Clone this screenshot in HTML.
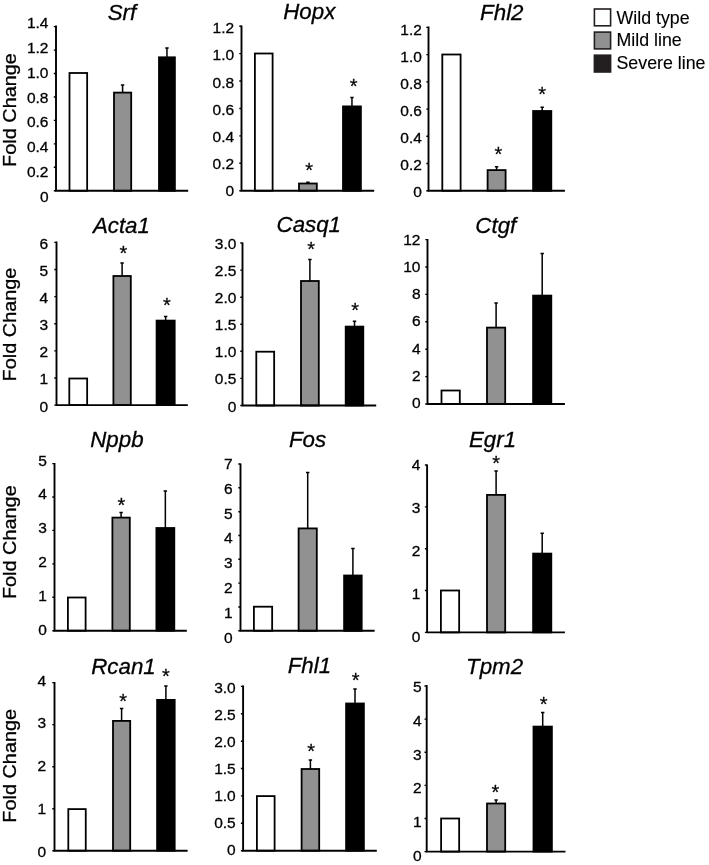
<!DOCTYPE html>
<html lang="en">
<head>
<meta charset="utf-8">
<title>Fold change bar charts</title>
<style>
html,body{margin:0;padding:0;background:#fff;}
body{width:709px;height:865px;overflow:hidden;}
svg{display:block;will-change:transform;}
svg text{font-family:"Liberation Sans", Arial, Helvetica, sans-serif;fill:#000;stroke:#000;stroke-width:.3px;}
.t{font-style:italic;font-size:22.3px;text-anchor:middle;}
.k{font-size:15.5px;text-anchor:end;}
.s{font-size:20px;text-anchor:middle;stroke:#111;stroke-width:.28px;}
.l{font-size:17.8px;stroke-width:.12px;}
.f{font-size:18.8px;text-anchor:middle;}
</style>
</head>
<body>
<svg width="709" height="865" viewBox="0 0 709 865">
<rect width="709" height="865" fill="#fff"/>
<g>
<text class="t" x="122.0" y="19.5">Srf</text>
<rect x="69.50" y="73.00" width="17.65" height="117.80" fill="#fff" stroke="#000" stroke-width="1.8"/>
<path d="M122.60 92.7V84.5M120.90 85.0H124.30" stroke="#000" stroke-width="1.5" fill="none"/>
<rect x="114.00" y="92.60" width="17.20" height="98.20" fill="#919191" stroke="#000" stroke-width="1.8"/>
<path d="M166.95 57.4V47.6M165.25 48.1H168.65" stroke="#000" stroke-width="1.5" fill="none"/>
<rect x="159.00" y="57.30" width="15.90" height="133.50" fill="#000" stroke="#000" stroke-width="1.8"/>
<path d="M56.00 25.6V190.80H188.2" stroke="#000" stroke-width="1.9" fill="none" stroke-linejoin="miter"/>
<text class="k" x="48.5" y="202.1">0</text>
<text class="k" x="48.5" y="177.2">0.2</text>
<text class="k" x="48.5" y="152.3">0.4</text>
<text class="k" x="48.5" y="127.4">0.6</text>
<text class="k" x="48.5" y="102.5">0.8</text>
<text class="k" x="48.5" y="77.6">1.0</text>
<text class="k" x="48.5" y="52.7">1.2</text>
<text class="k" x="48.5" y="27.9">1.4</text>
<path d="M56.00 190.8h-2.2M56.00 167.3h-2.2M56.00 143.9h-2.2M56.00 120.4h-2.2M56.00 97.0h-2.2M56.00 73.5h-2.2M56.00 50.1h-2.2M56.00 26.6h-2.2" stroke="#000" stroke-width="1.4" fill="none"/>
</g>
<g>
<text class="t" x="309.3" y="19.0">Hopx</text>
<rect x="254.90" y="53.50" width="17.70" height="137.25" fill="#fff" stroke="#000" stroke-width="1.8"/>
<path d="M307.90 183.6V181.8M306.20 182.3H309.60" stroke="#000" stroke-width="1.5" fill="none"/>
<rect x="299.00" y="183.50" width="17.80" height="7.25" fill="#919191" stroke="#000" stroke-width="1.8"/>
<path d="M351.95 106.5V97.1M350.25 97.6H353.65" stroke="#000" stroke-width="1.5" fill="none"/>
<rect x="343.00" y="106.40" width="17.90" height="84.35" fill="#000" stroke="#000" stroke-width="1.8"/>
<path d="M241.50 25.6V190.75H374.2" stroke="#000" stroke-width="1.9" fill="none" stroke-linejoin="miter"/>
<text class="k" x="234.1" y="195.7">0</text>
<text class="k" x="234.1" y="168.7">0.2</text>
<text class="k" x="234.1" y="141.6">0.4</text>
<text class="k" x="234.1" y="114.5">0.6</text>
<text class="k" x="234.1" y="87.5">0.8</text>
<text class="k" x="234.1" y="60.4">1.0</text>
<text class="k" x="234.1" y="33.4">1.2</text>
<path d="M241.50 190.8h-2.2M241.50 163.3h-2.2M241.50 135.9h-2.2M241.50 108.5h-2.2M241.50 81.0h-2.2M241.50 53.6h-2.2M241.50 26.2h-2.2" stroke="#000" stroke-width="1.4" fill="none"/>
<text class="s" x="309.1" y="176.9">*</text>
<text class="s" x="353.6" y="92.6">*</text>
</g>
<g>
<text class="t" x="501.8" y="19.5">Fhl2</text>
<rect x="442.30" y="54.50" width="18.30" height="136.25" fill="#fff" stroke="#000" stroke-width="1.8"/>
<path d="M496.60 170.2V166.2M494.90 166.7H498.30" stroke="#000" stroke-width="1.5" fill="none"/>
<rect x="487.60" y="170.10" width="18.00" height="20.65" fill="#919191" stroke="#000" stroke-width="1.8"/>
<path d="M542.20 111.1V106.7M540.50 107.2H543.90" stroke="#000" stroke-width="1.5" fill="none"/>
<rect x="533.10" y="111.00" width="18.20" height="79.75" fill="#000" stroke="#000" stroke-width="1.8"/>
<path d="M428.50 26.6V190.75H564.9" stroke="#000" stroke-width="1.9" fill="none" stroke-linejoin="miter"/>
<text class="k" x="421.9" y="196.9">0</text>
<text class="k" x="421.9" y="169.9">0.2</text>
<text class="k" x="421.9" y="142.9">0.4</text>
<text class="k" x="421.9" y="115.8">0.6</text>
<text class="k" x="421.9" y="88.8">0.8</text>
<text class="k" x="421.9" y="61.8">1.0</text>
<text class="k" x="421.9" y="34.8">1.2</text>
<path d="M428.50 190.8h-2.2M428.50 163.5h-2.2M428.50 136.3h-2.2M428.50 109.1h-2.2M428.50 81.9h-2.2M428.50 54.6h-2.2M428.50 27.4h-2.2" stroke="#000" stroke-width="1.4" fill="none"/>
<text class="s" x="498.3" y="160.5">*</text>
<text class="s" x="542.2" y="101.4">*</text>
</g>
<g>
<text class="t" x="121.4" y="232.6">Acta1</text>
<rect x="69.30" y="378.50" width="17.85" height="26.60" fill="#fff" stroke="#000" stroke-width="1.8"/>
<path d="M122.10 276.1V262.4M120.40 262.9H123.80" stroke="#000" stroke-width="1.5" fill="none"/>
<rect x="113.40" y="276.00" width="17.40" height="129.10" fill="#919191" stroke="#000" stroke-width="1.8"/>
<path d="M165.65 320.7V316.1M163.95 316.6H167.35" stroke="#000" stroke-width="1.5" fill="none"/>
<rect x="156.60" y="320.60" width="18.10" height="84.50" fill="#000" stroke="#000" stroke-width="1.8"/>
<path d="M56.50 241.6V405.10H187.8" stroke="#000" stroke-width="1.9" fill="none" stroke-linejoin="miter"/>
<text class="k" x="48.2" y="411.6">0</text>
<text class="k" x="48.2" y="384.4">1</text>
<text class="k" x="48.2" y="357.3">2</text>
<text class="k" x="48.2" y="330.1">3</text>
<text class="k" x="48.2" y="303.0">4</text>
<text class="k" x="48.2" y="275.9">5</text>
<text class="k" x="48.2" y="248.7">6</text>
<path d="M56.50 405.1h-2.2M56.50 378.0h-2.2M56.50 350.9h-2.2M56.50 323.8h-2.2M56.50 296.6h-2.2M56.50 269.5h-2.2M56.50 242.4h-2.2" stroke="#000" stroke-width="1.4" fill="none"/>
<text class="s" x="123.4" y="260.0">*</text>
<text class="s" x="166.8" y="311.8">*</text>
</g>
<g>
<text class="t" x="308.8" y="232.3">Casq1</text>
<rect x="256.30" y="351.70" width="17.85" height="53.80" fill="#fff" stroke="#000" stroke-width="1.8"/>
<path d="M309.90 281.1V259.0M308.20 259.5H311.60" stroke="#000" stroke-width="1.5" fill="none"/>
<rect x="301.00" y="281.00" width="17.80" height="124.50" fill="#919191" stroke="#000" stroke-width="1.8"/>
<path d="M354.50 326.7V320.7M352.80 321.2H356.20" stroke="#000" stroke-width="1.5" fill="none"/>
<rect x="345.70" y="326.60" width="17.60" height="78.90" fill="#000" stroke="#000" stroke-width="1.8"/>
<path d="M242.50 242.4V405.50H376.2" stroke="#000" stroke-width="1.9" fill="none" stroke-linejoin="miter"/>
<text class="k" x="236.4" y="411.5">0</text>
<text class="k" x="236.4" y="384.4">0.5</text>
<text class="k" x="236.4" y="357.3">1.0</text>
<text class="k" x="236.4" y="330.2">1.5</text>
<text class="k" x="236.4" y="303.0">2.0</text>
<text class="k" x="236.4" y="275.9">2.5</text>
<text class="k" x="236.4" y="248.8">3.0</text>
<path d="M242.50 405.5h-2.2M242.50 378.4h-2.2M242.50 351.3h-2.2M242.50 324.2h-2.2M242.50 297.2h-2.2M242.50 270.1h-2.2M242.50 243.0h-2.2" stroke="#000" stroke-width="1.4" fill="none"/>
<text class="s" x="311.1" y="255.6">*</text>
<text class="s" x="355.2" y="316.8">*</text>
</g>
<g>
<text class="t" x="495.8" y="232.6">Ctgf</text>
<rect x="441.50" y="390.50" width="18.30" height="13.50" fill="#fff" stroke="#000" stroke-width="1.8"/>
<path d="M496.10 327.7V302.5M494.40 303.0H497.80" stroke="#000" stroke-width="1.5" fill="none"/>
<rect x="487.00" y="327.60" width="18.20" height="76.40" fill="#919191" stroke="#000" stroke-width="1.8"/>
<path d="M542.20 295.7V253.0M540.50 253.5H543.90" stroke="#000" stroke-width="1.5" fill="none"/>
<rect x="533.10" y="295.60" width="18.20" height="108.40" fill="#000" stroke="#000" stroke-width="1.8"/>
<path d="M427.50 239.0V404.00H564.9" stroke="#000" stroke-width="1.9" fill="none" stroke-linejoin="miter"/>
<text class="k" x="420.5" y="407.7">0</text>
<text class="k" x="420.5" y="380.6">2</text>
<text class="k" x="420.5" y="353.5">4</text>
<text class="k" x="420.5" y="326.4">6</text>
<text class="k" x="420.5" y="299.3">8</text>
<text class="k" x="420.5" y="272.2">10</text>
<text class="k" x="420.5" y="245.1">12</text>
<path d="M427.50 404.0h-2.2M427.50 376.6h-2.2M427.50 349.2h-2.2M427.50 321.8h-2.2M427.50 294.4h-2.2M427.50 267.0h-2.2M427.50 239.6h-2.2" stroke="#000" stroke-width="1.4" fill="none"/>
</g>
<g>
<text class="t" x="116.9" y="447.3">Nppb</text>
<rect x="67.90" y="597.50" width="17.70" height="33.20" fill="#fff" stroke="#000" stroke-width="1.8"/>
<path d="M121.10 517.7V512.1M119.40 512.6H122.80" stroke="#000" stroke-width="1.5" fill="none"/>
<rect x="112.40" y="517.60" width="17.40" height="113.10" fill="#919191" stroke="#000" stroke-width="1.8"/>
<path d="M165.35 528.1V490.4M163.65 490.9H167.05" stroke="#000" stroke-width="1.5" fill="none"/>
<rect x="156.40" y="528.00" width="17.90" height="102.70" fill="#000" stroke="#000" stroke-width="1.8"/>
<path d="M54.50 463.0V630.70H186.8" stroke="#000" stroke-width="1.9" fill="none" stroke-linejoin="miter"/>
<text class="k" x="46.8" y="634.8">0</text>
<text class="k" x="46.8" y="600.9">1</text>
<text class="k" x="46.8" y="567.1">2</text>
<text class="k" x="46.8" y="533.2">3</text>
<text class="k" x="46.8" y="499.4">4</text>
<text class="k" x="46.8" y="465.6">5</text>
<path d="M54.50 630.7h-2.2M54.50 597.3h-2.2M54.50 563.9h-2.2M54.50 530.4h-2.2M54.50 497.0h-2.2M54.50 463.6h-2.2" stroke="#000" stroke-width="1.4" fill="none"/>
<text class="s" x="121.5" y="511.6">*</text>
</g>
<g>
<text class="t" x="307.6" y="446.9">Fos</text>
<rect x="253.90" y="606.70" width="18.25" height="24.10" fill="#fff" stroke="#000" stroke-width="1.8"/>
<path d="M307.70 528.5V472.0M306.00 472.5H309.40" stroke="#000" stroke-width="1.5" fill="none"/>
<rect x="298.60" y="528.40" width="18.20" height="102.40" fill="#919191" stroke="#000" stroke-width="1.8"/>
<path d="M352.90 575.6V548.1M351.20 548.6H354.60" stroke="#000" stroke-width="1.5" fill="none"/>
<rect x="344.10" y="575.50" width="17.60" height="55.30" fill="#000" stroke="#000" stroke-width="1.8"/>
<path d="M240.50 463.6V630.80H374.6" stroke="#000" stroke-width="1.9" fill="none" stroke-linejoin="miter"/>
<text class="k" x="232.7" y="642.8">0</text>
<text class="k" x="232.7" y="617.9">1</text>
<text class="k" x="232.7" y="593.1">2</text>
<text class="k" x="232.7" y="568.2">3</text>
<text class="k" x="232.7" y="543.3">4</text>
<text class="k" x="232.7" y="518.5">5</text>
<text class="k" x="232.7" y="493.6">6</text>
<text class="k" x="232.7" y="468.7">7</text>
<path d="M240.50 630.8h-2.2M240.50 607.0h-2.2M240.50 583.1h-2.2M240.50 559.3h-2.2M240.50 535.5h-2.2M240.50 511.7h-2.2M240.50 487.8h-2.2M240.50 464.0h-2.2" stroke="#000" stroke-width="1.4" fill="none"/>
</g>
<g>
<text class="t" x="492.5" y="447.3">Egr1</text>
<rect x="440.90" y="590.50" width="18.25" height="41.90" fill="#fff" stroke="#000" stroke-width="1.8"/>
<path d="M496.10 495.0V470.4M494.40 470.9H497.80" stroke="#000" stroke-width="1.5" fill="none"/>
<rect x="487.00" y="494.90" width="18.20" height="137.50" fill="#919191" stroke="#000" stroke-width="1.8"/>
<path d="M542.20 553.7V532.7M540.50 533.2H543.90" stroke="#000" stroke-width="1.5" fill="none"/>
<rect x="533.10" y="553.60" width="18.20" height="78.80" fill="#000" stroke="#000" stroke-width="1.8"/>
<path d="M427.10 464.4V632.40H564.9" stroke="#000" stroke-width="1.9" fill="none" stroke-linejoin="miter"/>
<text class="k" x="420.3" y="641.7">0</text>
<text class="k" x="420.3" y="598.8">1</text>
<text class="k" x="420.3" y="555.9">2</text>
<text class="k" x="420.3" y="513.0">3</text>
<text class="k" x="420.3" y="470.1">4</text>
<path d="M427.10 632.4h-2.2M427.10 590.5h-2.2M427.10 548.7h-2.2M427.10 506.9h-2.2M427.10 465.0h-2.2" stroke="#000" stroke-width="1.4" fill="none"/>
<text class="s" x="496.1" y="470.1">*</text>
</g>
<g>
<text class="t" x="123.5" y="673.9">Rcan1</text>
<rect x="68.30" y="809.10" width="17.45" height="41.60" fill="#fff" stroke="#000" stroke-width="1.8"/>
<path d="M121.60 721.0V708.0M119.90 708.5H123.30" stroke="#000" stroke-width="1.5" fill="none"/>
<rect x="113.00" y="720.90" width="17.20" height="129.80" fill="#919191" stroke="#000" stroke-width="1.8"/>
<path d="M165.90 700.0V685.4M164.20 685.9H167.60" stroke="#000" stroke-width="1.5" fill="none"/>
<rect x="157.10" y="699.90" width="17.60" height="150.80" fill="#000" stroke="#000" stroke-width="1.8"/>
<path d="M54.50 682.0V850.70H187.6" stroke="#000" stroke-width="1.9" fill="none" stroke-linejoin="miter"/>
<text class="k" x="46.1" y="857.1">0</text>
<text class="k" x="46.1" y="814.2">1</text>
<text class="k" x="46.1" y="771.3">2</text>
<text class="k" x="46.1" y="728.4">3</text>
<text class="k" x="46.1" y="685.5">4</text>
<path d="M54.50 850.7h-2.2M54.50 808.7h-2.2M54.50 766.7h-2.2M54.50 724.6h-2.2M54.50 682.6h-2.2" stroke="#000" stroke-width="1.4" fill="none"/>
<text class="s" x="123.1" y="707.9">*</text>
<text class="s" x="166.0" y="682.9">*</text>
</g>
<g>
<text class="t" x="309.4" y="672.9">Fhl1</text>
<rect x="256.90" y="796.10" width="17.70" height="54.60" fill="#fff" stroke="#000" stroke-width="1.8"/>
<path d="M310.40 769.1V759.5M308.70 760.0H312.10" stroke="#000" stroke-width="1.5" fill="none"/>
<rect x="301.60" y="769.00" width="17.60" height="81.70" fill="#919191" stroke="#000" stroke-width="1.8"/>
<path d="M355.00 703.6V688.6M353.30 689.1H356.70" stroke="#000" stroke-width="1.5" fill="none"/>
<rect x="346.10" y="703.50" width="17.80" height="147.20" fill="#000" stroke="#000" stroke-width="1.8"/>
<path d="M243.10 685.6V850.70H376.8" stroke="#000" stroke-width="1.9" fill="none" stroke-linejoin="miter"/>
<text class="k" x="235.7" y="855.3">0</text>
<text class="k" x="235.7" y="828.2">0.5</text>
<text class="k" x="235.7" y="801.1">1.0</text>
<text class="k" x="235.7" y="774.0">1.5</text>
<text class="k" x="235.7" y="746.9">2.0</text>
<text class="k" x="235.7" y="719.8">2.5</text>
<text class="k" x="235.7" y="692.7">3.0</text>
<path d="M243.10 850.7h-2.2M243.10 823.3h-2.2M243.10 795.9h-2.2M243.10 768.5h-2.2M243.10 741.2h-2.2M243.10 713.8h-2.2M243.10 686.4h-2.2" stroke="#000" stroke-width="1.4" fill="none"/>
<text class="s" x="311.1" y="757.6">*</text>
<text class="s" x="355.6" y="686.7">*</text>
</g>
<g>
<text class="t" x="494.6" y="673.9">Tpm2</text>
<rect x="441.10" y="818.50" width="18.05" height="33.10" fill="#fff" stroke="#000" stroke-width="1.8"/>
<path d="M496.10 803.6V799.6M494.40 800.1H497.80" stroke="#000" stroke-width="1.5" fill="none"/>
<rect x="487.00" y="803.50" width="18.20" height="48.10" fill="#919191" stroke="#000" stroke-width="1.8"/>
<path d="M542.70 726.7V712.0M541.00 712.5H544.40" stroke="#000" stroke-width="1.5" fill="none"/>
<rect x="533.50" y="726.60" width="18.40" height="125.00" fill="#000" stroke="#000" stroke-width="1.8"/>
<path d="M426.70 685.0V851.60H565.5" stroke="#000" stroke-width="1.9" fill="none" stroke-linejoin="miter"/>
<text class="k" x="421.6" y="861.0">0</text>
<text class="k" x="421.6" y="827.2">1</text>
<text class="k" x="421.6" y="793.3">2</text>
<text class="k" x="421.6" y="759.5">3</text>
<text class="k" x="421.6" y="725.6">4</text>
<text class="k" x="421.6" y="691.8">5</text>
<path d="M426.70 851.6h-2.2M426.70 818.5h-2.2M426.70 785.4h-2.2M426.70 752.2h-2.2M426.70 719.1h-2.2M426.70 686.0h-2.2" stroke="#000" stroke-width="1.4" fill="none"/>
<text class="s" x="495.5" y="799.1">*</text>
<text class="s" x="543.6" y="711.1">*</text>
</g>
<text class="f" transform="translate(15.8 110.0) rotate(-90) scale(1.058 1)">Fold Change</text>
<text class="f" transform="translate(15.8 324.5) rotate(-90) scale(1.058 1)">Fold Change</text>
<text class="f" transform="translate(15.8 542.2) rotate(-90) scale(1.058 1)">Fold Change</text>
<text class="f" transform="translate(15.8 765.8) rotate(-90) scale(1.058 1)">Fold Change</text>
<g>
<rect x="594.4" y="9.0" width="16.2" height="16.8" fill="#fff" stroke="#231f20" stroke-width="1.6"/>
<text class="l" x="616.5" y="24.3">Wild type</text>
<rect x="594.4" y="32.1" width="16.2" height="16.8" fill="#919191" stroke="#231f20" stroke-width="1.6"/>
<text class="l" x="616.5" y="45.9">Mild line</text>
<rect x="594.4" y="55.2" width="16.2" height="16.8" fill="#231f20" stroke="#231f20" stroke-width="1.6"/>
<text class="l" x="616.5" y="69.2">Severe line</text>
</g>
</svg>
</body>
</html>
